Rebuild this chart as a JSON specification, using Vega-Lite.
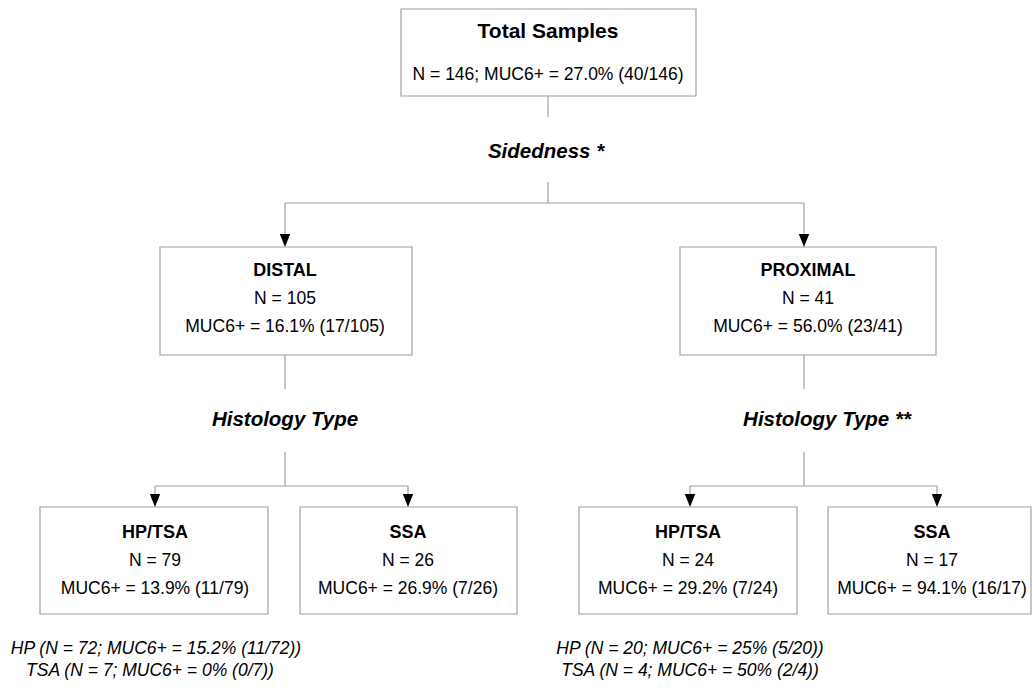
{
  "$schema": "https://vega.github.io/schema/vega-lite/v6.json",
  "width": 1032,
  "height": 690,
  "autosize": {"type": "fit", "contains": "padding"},
  "padding": 0,
  "background": "white",
  "config": {"view": {"stroke": null}},
  "datasets": {
    "boxes": [
      {"node": "Total", "x1": 401, "x2": 696, "y1": 9, "y2": 96},
      {"node": "Distal", "x1": 160, "x2": 412, "y1": 247, "y2": 355},
      {"node": "Proximal", "x1": 680, "x2": 936, "y1": 247, "y2": 355},
      {"node": "Distal HP/TSA", "x1": 40, "x2": 268, "y1": 507, "y2": 614},
      {"node": "Distal SSA", "x1": 300, "x2": 517, "y1": 507, "y2": 614},
      {"node": "Proximal HP/TSA", "x1": 579, "x2": 797, "y1": 507, "y2": 614},
      {"node": "Proximal SSA", "x1": 828, "x2": 1031, "y1": 507, "y2": 614}
    ],
    "links": [
      {"x1": 548, "y1": 96, "x2": 548, "y2": 117},
      {"x1": 548, "y1": 182, "x2": 548, "y2": 203},
      {"x1": 285, "y1": 203, "x2": 804, "y2": 203},
      {"x1": 285, "y1": 203, "x2": 285, "y2": 240},
      {"x1": 804, "y1": 203, "x2": 804, "y2": 240},
      {"x1": 285, "y1": 355, "x2": 285, "y2": 389},
      {"x1": 285, "y1": 452, "x2": 285, "y2": 486},
      {"x1": 155, "y1": 486, "x2": 408, "y2": 486},
      {"x1": 155, "y1": 486, "x2": 155, "y2": 500},
      {"x1": 408, "y1": 486, "x2": 408, "y2": 500},
      {"x1": 804, "y1": 355, "x2": 804, "y2": 389},
      {"x1": 804, "y1": 452, "x2": 804, "y2": 486},
      {"x1": 690, "y1": 486, "x2": 937, "y2": 486},
      {"x1": 690, "y1": 486, "x2": 690, "y2": 500},
      {"x1": 937, "y1": 486, "x2": 937, "y2": 500}
    ],
    "arrows": [
      {"x": 285, "y": 247},
      {"x": 804, "y": 247},
      {"x": 155, "y": 507},
      {"x": 408, "y": 507},
      {"x": 690, "y": 507},
      {"x": 937, "y": 507}
    ],
    "labels": [
      {"x": 548, "y": 32, "text": "Total Samples", "kind": "head"},
      {"x": 548, "y": 75, "text": "N = 146; MUC6+ = 27.0% (40/146)", "kind": "body"},
      {"x": 546, "y": 152, "text": "Sidedness *", "kind": "split"},
      {"x": 285, "y": 271, "text": "DISTAL", "kind": "title"},
      {"x": 285, "y": 299, "text": "N = 105", "kind": "body"},
      {"x": 285, "y": 327, "text": "MUC6+ = 16.1% (17/105)", "kind": "body"},
      {"x": 808, "y": 271, "text": "PROXIMAL", "kind": "title"},
      {"x": 808, "y": 299, "text": "N = 41", "kind": "body"},
      {"x": 808, "y": 327, "text": "MUC6+ = 56.0% (23/41)", "kind": "body"},
      {"x": 285, "y": 420, "text": "Histology Type", "kind": "split"},
      {"x": 827, "y": 420, "text": "Histology Type **", "kind": "split"},
      {"x": 155, "y": 533, "text": "HP/TSA", "kind": "title"},
      {"x": 155, "y": 561, "text": "N = 79", "kind": "body"},
      {"x": 155, "y": 589, "text": "MUC6+ = 13.9% (11/79)", "kind": "body"},
      {"x": 408, "y": 533, "text": "SSA", "kind": "title"},
      {"x": 408, "y": 561, "text": "N = 26", "kind": "body"},
      {"x": 408, "y": 589, "text": "MUC6+ = 26.9% (7/26)", "kind": "body"},
      {"x": 688, "y": 533, "text": "HP/TSA", "kind": "title"},
      {"x": 688, "y": 561, "text": "N = 24", "kind": "body"},
      {"x": 688, "y": 589, "text": "MUC6+ = 29.2% (7/24)", "kind": "body"},
      {"x": 932, "y": 533, "text": "SSA", "kind": "title"},
      {"x": 932, "y": 561, "text": "N = 17", "kind": "body"},
      {"x": 932, "y": 589, "text": "MUC6+ = 94.1% (16/17)", "kind": "body"},
      {"x": 156, "y": 649, "text": "HP (N = 72; MUC6+ = 15.2% (11/72))", "kind": "note"},
      {"x": 150, "y": 671, "text": "TSA (N = 7; MUC6+ = 0% (0/7))", "kind": "note"},
      {"x": 690, "y": 649, "text": "HP (N = 20; MUC6+ = 25% (5/20))", "kind": "note"},
      {"x": 690, "y": 671, "text": "TSA (N = 4; MUC6+ = 50% (2/4))", "kind": "note"}
    ]
  },
  "layer": [
    {
      "data": {"name": "boxes"},
      "mark": {"type": "rect", "fill": "white", "stroke": "#a0a0a0", "strokeWidth": 1.2},
      "encoding": {
        "x": {"field": "x1", "type": "quantitative", "scale": {"domain": [0, 1032], "nice": false, "zero": false}, "axis": null},
        "x2": {"field": "x2"},
        "y": {"field": "y1", "type": "quantitative", "scale": {"domain": [0, 690], "nice": false, "zero": false, "reverse": true}, "axis": null},
        "y2": {"field": "y2"}
      }
    },
    {
      "data": {"name": "links"},
      "mark": {"type": "rule", "stroke": "#a0a0a0", "strokeWidth": 1.2},
      "encoding": {
        "x": {"field": "x1", "type": "quantitative", "axis": null},
        "x2": {"field": "x2"},
        "y": {"field": "y1", "type": "quantitative", "axis": null},
        "y2": {"field": "y2"}
      }
    },
    {
      "data": {"name": "arrows"},
      "mark": {"type": "point", "shape": "M-0.8,-2L0.8,-2L0,0Z", "filled": true, "color": "black", "opacity": 1, "size": 169, "strokeWidth": 0},
      "encoding": {
        "x": {"field": "x", "type": "quantitative", "axis": null},
        "y": {"field": "y", "type": "quantitative", "axis": null}
      }
    },
    {
      "data": {"name": "labels"},
      "transform": [{"filter": "datum.kind === 'head'"}],
      "mark": {"type": "text", "font": "Liberation Sans", "fontSize": 21, "fontWeight": "bold", "baseline": "middle", "align": "center", "color": "black"},
      "encoding": {
        "x": {"field": "x", "type": "quantitative", "axis": null},
        "y": {"field": "y", "type": "quantitative", "axis": null},
        "text": {"field": "text"}
      }
    },
    {
      "data": {"name": "labels"},
      "transform": [{"filter": "datum.kind === 'title'"}],
      "mark": {"type": "text", "font": "Liberation Sans", "fontSize": 18, "fontWeight": "bold", "baseline": "middle", "align": "center", "color": "black"},
      "encoding": {
        "x": {"field": "x", "type": "quantitative", "axis": null},
        "y": {"field": "y", "type": "quantitative", "axis": null},
        "text": {"field": "text"}
      }
    },
    {
      "data": {"name": "labels"},
      "transform": [{"filter": "datum.kind === 'body'"}],
      "mark": {"type": "text", "font": "Liberation Sans", "fontSize": 17.5, "baseline": "middle", "align": "center", "color": "black"},
      "encoding": {
        "x": {"field": "x", "type": "quantitative", "axis": null},
        "y": {"field": "y", "type": "quantitative", "axis": null},
        "text": {"field": "text"}
      }
    },
    {
      "data": {"name": "labels"},
      "transform": [{"filter": "datum.kind === 'split'"}],
      "mark": {"type": "text", "font": "Liberation Sans", "fontSize": 20.5, "fontWeight": "bold", "fontStyle": "italic", "baseline": "middle", "align": "center", "color": "black"},
      "encoding": {
        "x": {"field": "x", "type": "quantitative", "axis": null},
        "y": {"field": "y", "type": "quantitative", "axis": null},
        "text": {"field": "text"}
      }
    },
    {
      "data": {"name": "labels"},
      "transform": [{"filter": "datum.kind === 'note'"}],
      "mark": {"type": "text", "font": "Liberation Sans", "fontSize": 17.5, "fontStyle": "italic", "baseline": "middle", "align": "center", "color": "black"},
      "encoding": {
        "x": {"field": "x", "type": "quantitative", "axis": null},
        "y": {"field": "y", "type": "quantitative", "axis": null},
        "text": {"field": "text"}
      }
    }
  ]
}
